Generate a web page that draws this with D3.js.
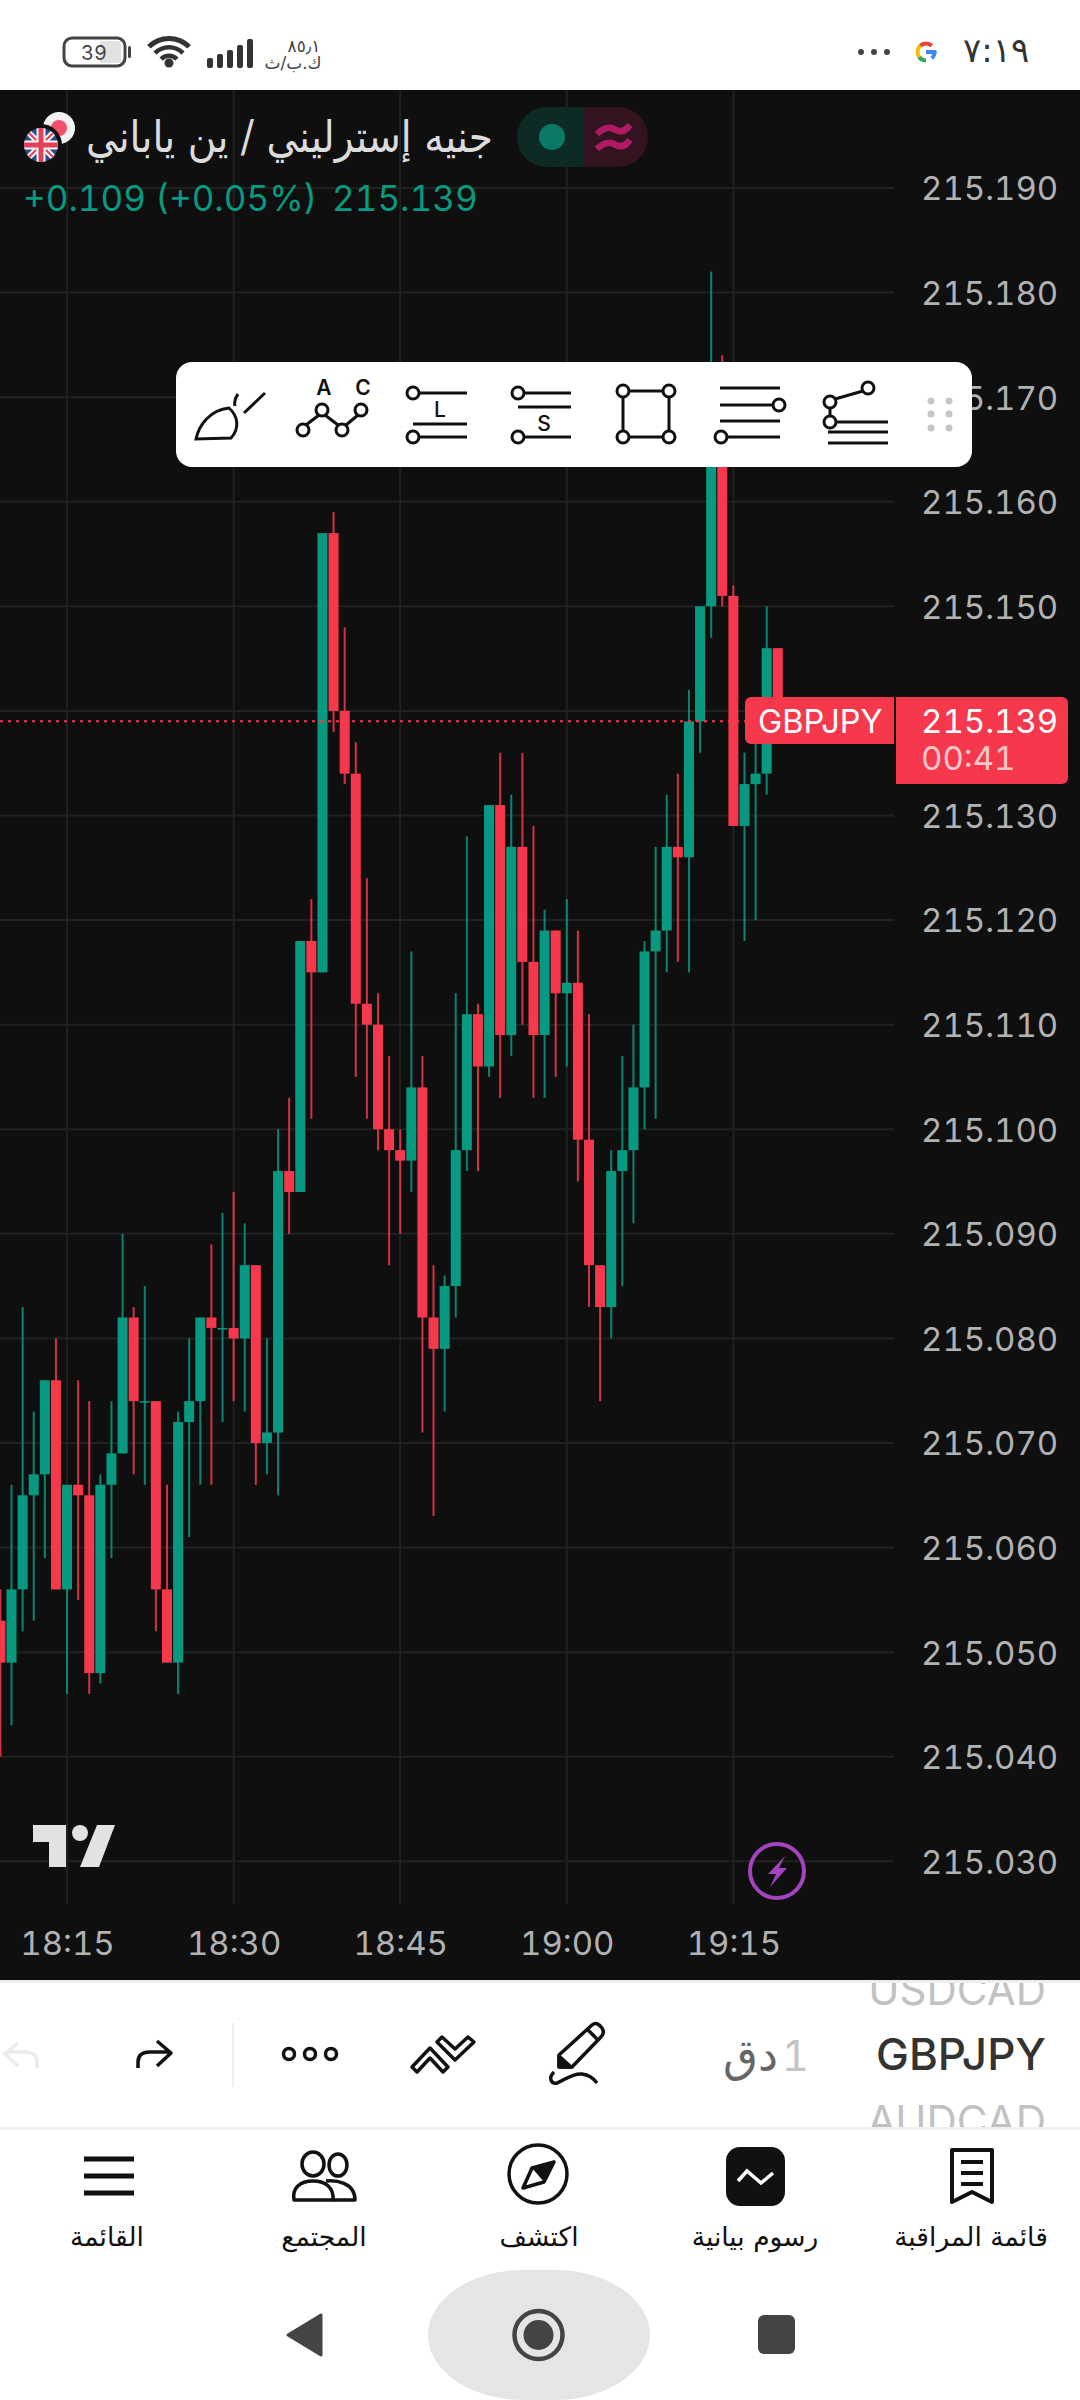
<!DOCTYPE html>
<html>
<head>
<meta charset="utf-8">
<script src="https://cdn.jsdelivr.net/npm/d3@7"></script>
<style>
  html, body { margin: 0; padding: 0; background: #fff; }
  svg { display: block; }
  text { font-family: Inter, "DejaVu Sans", sans-serif; font-variant-numeric: tabular-nums; font-feature-settings: "tnum" 1; }
</style>
</head>
<body>
<div id="chart"></div>
<script>
// one minute candles 18:09 -> 19:19
const times = ["18:09","18:10","18:11","18:12","18:13","18:14","18:15","18:16","18:17","18:18","18:19","18:20","18:21","18:22","18:23","18:24","18:25","18:26","18:27","18:28","18:29","18:30","18:31","18:32","18:33","18:34","18:35","18:36","18:37","18:38","18:39","18:40","18:41","18:42","18:43","18:44","18:45","18:46","18:47","18:48","18:49","18:50","18:51","18:52","18:53","18:54","18:55","18:56","18:57","18:58","18:59","19:00","19:01","19:02","19:03","19:04","19:05","19:06","19:07","19:08","19:09","19:10","19:11","19:12","19:13","19:14","19:15","19:16","19:17","19:18","19:19"];
const opens = [215.053,215.049,215.056,215.065,215.067,215.076,215.056,215.066,215.065,215.048,215.066,215.069,215.082,215.074,215.074,215.056,215.049,215.072,215.074,215.082,215.081,215.081,215.080,215.087,215.070,215.071,215.096,215.094,215.118,215.115,215.157,215.140,215.134,215.112,215.110,215.100,215.098,215.097,215.104,215.082,215.079,215.085,215.098,215.111,215.106,215.131,215.109,215.127,215.116,215.109,215.119,215.113,215.114,215.099,215.087,215.083,215.096,215.098,215.104,215.117,215.119,215.127,215.126,215.139,215.150,215.168,215.151,215.129,215.133,215.134,215.146];
const closes = [215.049,215.056,215.065,215.067,215.076,215.056,215.066,215.065,215.048,215.066,215.069,215.082,215.074,215.074,215.056,215.049,215.072,215.074,215.082,215.081,215.081,215.080,215.087,215.070,215.071,215.096,215.094,215.118,215.115,215.157,215.140,215.134,215.112,215.110,215.100,215.098,215.097,215.104,215.082,215.079,215.085,215.098,215.111,215.106,215.131,215.109,215.127,215.116,215.109,215.119,215.113,215.114,215.099,215.087,215.083,215.096,215.098,215.104,215.117,215.119,215.127,215.126,215.139,215.150,215.168,215.151,215.129,215.133,215.134,215.146,215.139];
const highs = [215.056,215.066,215.083,215.073,215.076,215.080,215.066,215.076,215.074,215.067,215.074,215.090,215.083,215.085,215.074,215.066,215.073,215.080,215.082,215.089,215.092,215.094,215.091,215.087,215.080,215.100,215.103,215.118,215.122,215.157,215.159,215.148,215.137,215.124,215.113,215.107,215.100,215.117,215.107,215.087,215.086,215.113,215.128,215.112,215.131,215.136,215.132,215.136,215.129,215.121,215.119,215.122,215.119,215.111,215.087,215.098,215.107,215.110,215.118,215.127,215.132,215.134,215.142,215.150,215.182,215.174,215.152,215.136,215.137,215.150,215.146];
const lows = [215.040,215.043,215.052,215.053,215.059,215.056,215.046,215.055,215.046,215.047,215.059,215.069,215.067,215.066,215.052,215.049,215.046,215.061,215.066,215.066,215.072,215.074,215.073,215.066,215.067,215.065,215.090,215.094,215.101,215.115,215.138,215.133,215.105,215.101,215.098,215.087,215.090,215.094,215.071,215.063,215.073,215.082,215.096,215.096,215.105,215.103,215.107,215.110,215.103,215.103,215.105,215.106,215.095,215.083,215.074,215.080,215.085,215.091,215.100,215.101,215.115,215.116,215.115,215.136,215.147,215.150,215.129,215.118,215.120,215.132,215.139];

const priceTicks = [215.19,215.18,215.17,215.16,215.15,215.14,215.13,215.12,215.11,215.10,215.09,215.08,215.07,215.06,215.05,215.04,215.03];
const timeTicks = ["18:15","18:30","18:45","19:00","19:15"];
const lastPrice = 215.139;
const countdown = "00:41";
const symbol = "GBPJPY";
const changeText = "+0.109 (+0.05%)";
const titleText = "جنيه إسترليني / ين ياباني";
const navLabels = ["القائمة","المجتمع","اكتشف","رسوم بيانية","قائمة المراقبة"];

const green = "#089981", red = "#f5384c", bg = "#0f0f0f", gridColor = "#212121";

const svg = d3.select("#chart").append("svg").attr("width", 1080).attr("height", 2400);

const x = d3.scalePoint().domain(times).range([0.4, 777.8]);
const y = d3.scaleLinear().domain([215.03, 215.19]).range([1861.3, 188]);

// chart panel
svg.append("rect").attr("x", 0).attr("y", 90).attr("width", 1080).attr("height", 1890).attr("fill", bg);
svg.append("rect").attr("x", 0).attr("y", 1980).attr("width", 1080).attr("height", 3).attr("fill", "#eeeeee");

// grid
svg.append("g").selectAll("line").data(priceTicks).join("line")
    .attr("x1", 0).attr("x2", 894).attr("y1", d => y(d)).attr("y2", d => y(d))
    .attr("stroke", gridColor).attr("stroke-width", 2);
svg.append("g").selectAll("line").data(timeTicks).join("line")
    .attr("x1", d => x(d)).attr("x2", d => x(d)).attr("y1", 90).attr("y2", 1904)
    .attr("stroke", gridColor).attr("stroke-width", 2);

// axes, the 215.140 label sits under the price tag so it is left out
const yAxis = svg.append("g").attr("transform", "translate(921,0)")
    .call(d3.axisRight(y).tickValues(priceTicks.filter(d => d !== 215.14)).tickFormat(d3.format(".3f")).tickSize(0).tickPadding(0));
yAxis.select(".domain").remove();
yAxis.selectAll("text").attr("x", 0).attr("dy", "0.36em").attr("font-size", 33).attr("fill", "#b2b2b2")
    .style("font-family", "Inter");

const xAxis = svg.append("g").attr("transform", "translate(0,1955)")
    .call(d3.axisBottom(x).tickValues(timeTicks).tickSize(0).tickPadding(0));
xAxis.select(".domain").remove();
xAxis.selectAll("text").attr("y", 0).attr("dy", 0).attr("font-size", 33).attr("fill", "#b2b2b2")
    .style("font-family", "Inter");

// candles
const candleColor = i => closes[i] >= opens[i] ? green : red;
const candles = svg.append("g").selectAll("g").data(times).join("g");
candles.append("rect")
    .attr("x", d => x(d) - 1).attr("width", 2)
    .attr("y", (d, i) => y(highs[i]))
    .attr("height", (d, i) => y(lows[i]) - y(highs[i]))
    .attr("fill", (d, i) => candleColor(i)).attr("opacity", 0.85);
candles.append("rect")
    .attr("x", d => x(d) - 5).attr("width", 10)
    .attr("y", (d, i) => y(Math.max(opens[i], closes[i])))
    .attr("height", (d, i) => Math.max(1.5, Math.abs(y(opens[i]) - y(closes[i]))))
    .attr("fill", (d, i) => candleColor(i));

// last price line + tags
svg.append("line").attr("x1", 0).attr("x2", 745).attr("y1", y(lastPrice)).attr("y2", y(lastPrice))
    .attr("stroke", red).attr("stroke-width", 2).attr("stroke-dasharray", "3 5");
svg.append("path").attr("fill", red)
    .attr("d", "M751 697H894V744H751a6 6 0 0 1-6-6V703a6 6 0 0 1 6-6z");
svg.append("text").attr("x", 758).attr("y", 733).attr("font-size", 32.5).attr("fill", "#fff").text(symbol);
svg.append("path").attr("fill", red)
    .attr("d", "M896 697H1062a6 6 0 0 1 6 6V778a6 6 0 0 1-6 6H896z");
svg.append("text").attr("x", 921).attr("y", 733).attr("font-size", 33).attr("fill", "#fff").text(d3.format(".3f")(lastPrice));
svg.append("text").attr("x", 921).attr("y", 770).attr("font-size", 33).attr("fill", "#fff").attr("fill-opacity", 0.72).text(countdown);

// header: flags
svg.append("circle").attr("cx", 59).attr("cy", 128).attr("r", 16).attr("fill", "#f2f2f2");
svg.append("circle").attr("cx", 59).attr("cy", 128).attr("r", 8).attr("fill", "#f0506a");
svg.append("circle").attr("cx", 41).attr("cy", 145).attr("r", 21).attr("fill", bg);
const flag = svg.append("g");
flag.append("clipPath").attr("id", "ukClip").append("circle").attr("cx", 41).attr("cy", 145).attr("r", 17);
const uk = flag.append("g").attr("clip-path", "url(#ukClip)");
uk.append("rect").attr("x", 24).attr("y", 128).attr("width", 34).attr("height", 34).attr("fill", "#2a4a8a");
uk.append("path").attr("d", "M24 128L58 162M58 128L24 162").attr("stroke", "#f4f4f4").attr("stroke-width", 6);
uk.append("path").attr("d", "M24 128L58 162M58 128L24 162").attr("stroke", "#e0405a").attr("stroke-width", 2);
uk.append("path").attr("d", "M41 128V162M24 145H58").attr("stroke", "#f4f4f4").attr("stroke-width", 9);
uk.append("path").attr("d", "M41 128V162M24 145H58").attr("stroke", "#e0405a").attr("stroke-width", 5);

svg.append("text").attr("transform", "translate(493,152) scale(0.89,1)").attr("direction", "rtl")
    .attr("font-size", 44).attr("fill", "#dcdcdc").style("font-family", "'DejaVu Sans'").text(titleText);

svg.append("text").attr("x", 23).attr("y", 211).attr("font-size", 35).attr("fill", green).text(changeText);
svg.append("text").attr("x", 332).attr("y", 211).attr("font-size", 35).attr("fill", green).text(d3.format(".3f")(lastPrice));

// market status pill
svg.append("path").attr("fill", "#0e2a25").attr("d", "M583 107H547a30 30 0 0 0 0 60H583z");
svg.append("path").attr("fill", "#331320").attr("d", "M583 107H618a30 30 0 0 1 0 60H583z");
svg.append("circle").attr("cx", 552).attr("cy", 137).attr("r", 13).attr("fill", "#0a7a66");
svg.append("path").attr("fill", "none").attr("stroke", "#b01a62").attr("stroke-width", 6.5)
    .attr("d", "M597 134c9-9 15-6 19-4s9 2 14-5M597 149c9-9 15-6 19-4s9 2 14-5");

// tradingview logo
svg.append("path").attr("fill", "#e2e2e2").attr("d", "M33 1825H66V1867H49V1842H33z");
svg.append("circle").attr("cx", 80).attr("cy", 1833).attr("r", 8).attr("fill", "#e2e2e2");
svg.append("path").attr("fill", "#e2e2e2").attr("d", "M97 1825H115L99 1867H80z");

// lightning badge
svg.append("circle").attr("cx", 777).attr("cy", 1871).attr("r", 27).attr("fill", "none").attr("stroke", "#a343bd").attr("stroke-width", 4);
svg.append("path").attr("fill", "#a343bd").attr("d", "M785 1856L768 1874H776L770 1887L787 1868H779z");

// drawing toolbar
const bar = svg.append("g");
bar.append("rect").attr("x", 176).attr("y", 362).attr("width", 796).attr("height", 105).attr("rx", 16).attr("fill", "#fff");
const ink = bar.append("g").attr("fill", "none").attr("stroke", "#111").attr("stroke-width", 3);
const node = (cx, cy) => ink.append("circle").attr("cx", cx).attr("cy", cy).attr("r", 6);
const stroke = d => ink.append("path").attr("d", d);
stroke("M196 439C199 425 210 410 229 408C238 416 240 428 231 438Z");
stroke("M265 393L244 413M238 394C235 398 234 402 235 406");
stroke("M306 425L319 415M325 415L338 425M346 425L358 415");
node(303, 430); node(322, 410); node(342, 430); node(361, 410);
stroke("M420 393H467M413 424H467M420 437H467");
node(413, 393); node(413, 437);
stroke("M525 393H571M518 407H571M525 437H571");
node(518, 393); node(518, 437);
stroke("M629 391H663M623 397V431M669 397V431M629 437H663");
node(623, 391); node(669, 391); node(623, 437); node(669, 437);
stroke("M720 388H780M720 405H773M720 421H780M727 437H780");
node(779, 405); node(721, 437);
stroke("M835 399L863 391M830 408V416M837 422H888M828 432H888M828 443H888");
node(868, 388); node(830, 402); node(830, 422);
const glyph = (t, gx, gy, w) => bar.append("text").attr("x", gx).attr("y", gy).attr("text-anchor", "middle")
    .attr("font-size", 21).attr("font-weight", w).attr("fill", "#111").text(t);
glyph("A", 324, 395, 600); glyph("C", 363, 395, 600); glyph("L", 440, 417, 500); glyph("S", 544, 431, 500);
[931, 949].forEach(dx => [401, 414, 428].forEach(dy =>
    bar.append("circle").attr("cx", dx).attr("cy", dy).attr("r", 3.5).attr("fill", "#c6c6c6")));

// status bar
const status = svg.append("g");
status.append("rect").attr("x", 64).attr("y", 38).attr("width", 61).attr("height", 28).attr("rx", 8)
    .attr("fill", "#fff").attr("stroke", "#444").attr("stroke-width", 3);
status.append("rect").attr("x", 100).attr("y", 41).attr("width", 21).attr("height", 22).attr("fill", "#e2e2e2");
status.append("rect").attr("x", 128).attr("y", 46).attr("width", 3).attr("height", 12).attr("rx", 1.5).attr("fill", "#444");
status.append("text").attr("x", 94).attr("y", 60).attr("text-anchor", "middle").attr("font-size", 20).attr("fill", "#444").text("39");
const wifi = d3.arc().startAngle(-Math.PI / 4).endAngle(Math.PI / 4);
[[26, 31], [17.5, 22], [9, 13.5]].forEach(r => status.append("path").attr("transform", "translate(169,67)")
    .attr("d", wifi({ innerRadius: r[0], outerRadius: r[1] })).attr("fill", "#333"));
status.append("circle").attr("cx", 169).attr("cy", 63).attr("r", 4.5).attr("fill", "#333");
status.selectAll(".sig").data([10, 14, 18, 23, 29]).join("rect")
    .attr("x", (d, i) => 207 + i * 10).attr("y", d => 68 - d).attr("width", 6).attr("height", d => d).attr("rx", 2).attr("fill", "#333");
status.append("text").attr("x", 304).attr("y", 52).attr("text-anchor", "middle").attr("font-size", 17).attr("fill", "#444").style("font-family", "'DejaVu Sans'").text("٨٥٫١");
status.append("text").attr("x", 293).attr("y", 69).attr("text-anchor", "middle").attr("font-size", 17).attr("fill", "#444").style("font-family", "'DejaVu Sans'").text("ك.ب/ث");
[861, 874, 887].forEach(cx => status.append("circle").attr("cx", cx).attr("cy", 52).attr("r", 3).attr("fill", "#444"));
const gArc = d3.arc().innerRadius(6.5).outerRadius(10.5);
[["#ea4335", -0.75, 0.75], ["#fbbc05", -2.2, -0.75], ["#34a853", -3.14, -2.2], ["#4285f4", 1.57, 2.4]].forEach(a => {
    status.append("path").attr("transform", "translate(926,52)").attr("fill", a[0])
        .attr("d", gArc({ startAngle: a[1], endAngle: a[2] }));
});
status.append("rect").attr("x", 926).attr("y", 50).attr("width", 10.5).attr("height", 4).attr("fill", "#4285f4");
status.append("text").attr("x", 963).attr("y", 62).attr("font-size", 34).attr("fill", "#333").attr("direction", "ltr")
    .style("font-family", "'DejaVu Sans'").text("٧:١٩");

// symbol / interval strip
const strip = svg.append("g");
strip.append("clipPath").attr("id", "stripClip").append("rect").attr("x", 0).attr("y", 1983).attr("width", 1080).attr("height", 144);
const names = strip.append("g").attr("clip-path", "url(#stripClip)").attr("text-anchor", "end");
names.append("text").attr("x", 1046).attr("y", 2005).attr("font-size", 42).attr("fill", "#c2c2c2").text("USDCAD");
names.append("text").attr("x", 1046).attr("y", 2070).attr("font-size", 44).attr("font-weight", 500).attr("fill", "#333").text(symbol);
names.append("text").attr("x", 1046).attr("y", 2136).attr("font-size", 42).attr("fill", "#c2c2c2").text("AUDCAD");
strip.append("rect").attr("x", 0).attr("y", 2127).attr("width", 1080).attr("height", 3).attr("fill", "#f0f0f0");
strip.append("text").attr("x", 809).attr("y", 2071).attr("text-anchor", "end").attr("font-size", 42).attr("fill", "#c4c4c4").text("1");
strip.append("text").attr("x", 778).attr("y", 2071).attr("text-anchor", "end").attr("font-size", 45).attr("fill", "#666").style("font-family", "'DejaVu Sans'").text("دق");
const tool = strip.append("g").attr("fill", "none").attr("stroke", "#111").attr("stroke-width", 3.5).attr("stroke-linejoin", "round");
tool.append("path").attr("d", "M559 2067V2055L592 2025Q597 2021 602 2028Q605 2033 601 2037L572 2067Z");
tool.append("path").attr("d", "M587 2029L598 2040");
tool.append("path").attr("d", "M559 2056L571 2067L559 2067Z").attr("fill", "#111");
tool.append("path").attr("d", "M554 2072C548 2078 551 2084 557 2083C565 2080 572 2073 582 2074C590 2075 594 2079 597 2083");
tool.append("path").attr("d", "M412 2067L430 2048L448 2067L443 2072L430 2058L417 2072Z");
tool.append("path").attr("d", "M437 2042L442 2037L455 2049L468 2037L474 2042L455 2060Z");
[289, 310, 331].forEach(cx => tool.append("circle").attr("cx", cx).attr("cy", 2054).attr("r", 5.5));
tool.append("path").attr("d", "M138 2068V2062C138 2054 144 2052 150 2052H170M157 2041L171 2053L157 2066");
strip.append("path").attr("fill", "none").attr("stroke", "#ececec").attr("stroke-width", 3.5)
    .attr("d", "M37 2068V2062C37 2054 31 2052 25 2052H6M18 2043L5 2054L18 2066");
strip.append("rect").attr("x", 232).attr("y", 2023).attr("width", 2).attr("height", 64).attr("fill", "#eeeeee");

// bottom nav
const nav = svg.append("g");
const navX = [107, 324, 539, 755, 971];
nav.selectAll("text").data(navLabels).join("text")
    .attr("x", (d, i) => navX[i]).attr("y", 2246).attr("text-anchor", "middle").attr("font-size", 26.5).attr("fill", "#111")
    .style("font-family", "'DejaVu Sans'").text(d => d);
nav.append("path").attr("stroke", "#111").attr("stroke-width", 5).attr("d", "M84 2159H134M84 2176H134M84 2193H134");
const line = nav.append("g").attr("fill", "none").attr("stroke", "#111").attr("stroke-width", 3.5).attr("stroke-linejoin", "round");
line.append("ellipse").attr("cx", 313).attr("cy", 2164).attr("rx", 11).attr("ry", 12);
line.append("ellipse").attr("cx", 338).attr("cy", 2165).attr("rx", 9).attr("ry", 11);
line.append("path").attr("d", "M294 2200C292 2188 300 2181 313 2181C326 2181 334 2188 333 2200Z");
line.append("path").attr("d", "M326 2181C335 2180 355 2182 355 2200H333");
line.append("circle").attr("cx", 538).attr("cy", 2174).attr("r", 29);
line.append("path").attr("d", "M554 2162L544 2182L523 2188L532 2168Z");
nav.append("path").attr("d", "M554 2162L544 2182L532 2168Z").attr("fill", "#111");
nav.append("rect").attr("x", 726).attr("y", 2147).attr("width", 59).attr("height", 59).attr("rx", 14).attr("fill", "#111");
nav.append("path").attr("fill", "none").attr("stroke", "#fff").attr("stroke-width", 3.5).attr("d", "M738 2181L747 2171L761 2183L773 2173");
line.append("path").attr("stroke-width", 4).attr("d", "M952 2150H992V2202L972 2192L952 2202Z");
line.append("path").attr("stroke-width", 4).attr("d", "M961 2162H983M961 2173H983M961 2184H983");

// android buttons
nav.append("rect").attr("x", 428).attr("y", 2270).attr("width", 222).attr("height", 130).attr("rx", 95).attr("ry", 65).attr("fill", "#e5e5e5");
nav.append("path").attr("fill", "#444").attr("stroke", "#444").attr("stroke-width", 3).attr("stroke-linejoin", "round").attr("d", "M321 2315L288 2335L321 2355Z");
nav.append("circle").attr("cx", 538.5).attr("cy", 2335).attr("r", 24).attr("fill", "none").attr("stroke", "#444").attr("stroke-width", 4.5);
nav.append("circle").attr("cx", 538.5).attr("cy", 2335).attr("r", 15).attr("fill", "#444");
nav.append("rect").attr("x", 758).attr("y", 2315).attr("width", 37).attr("height", 39).attr("rx", 6).attr("fill", "#444");
</script>
</body>
</html>
